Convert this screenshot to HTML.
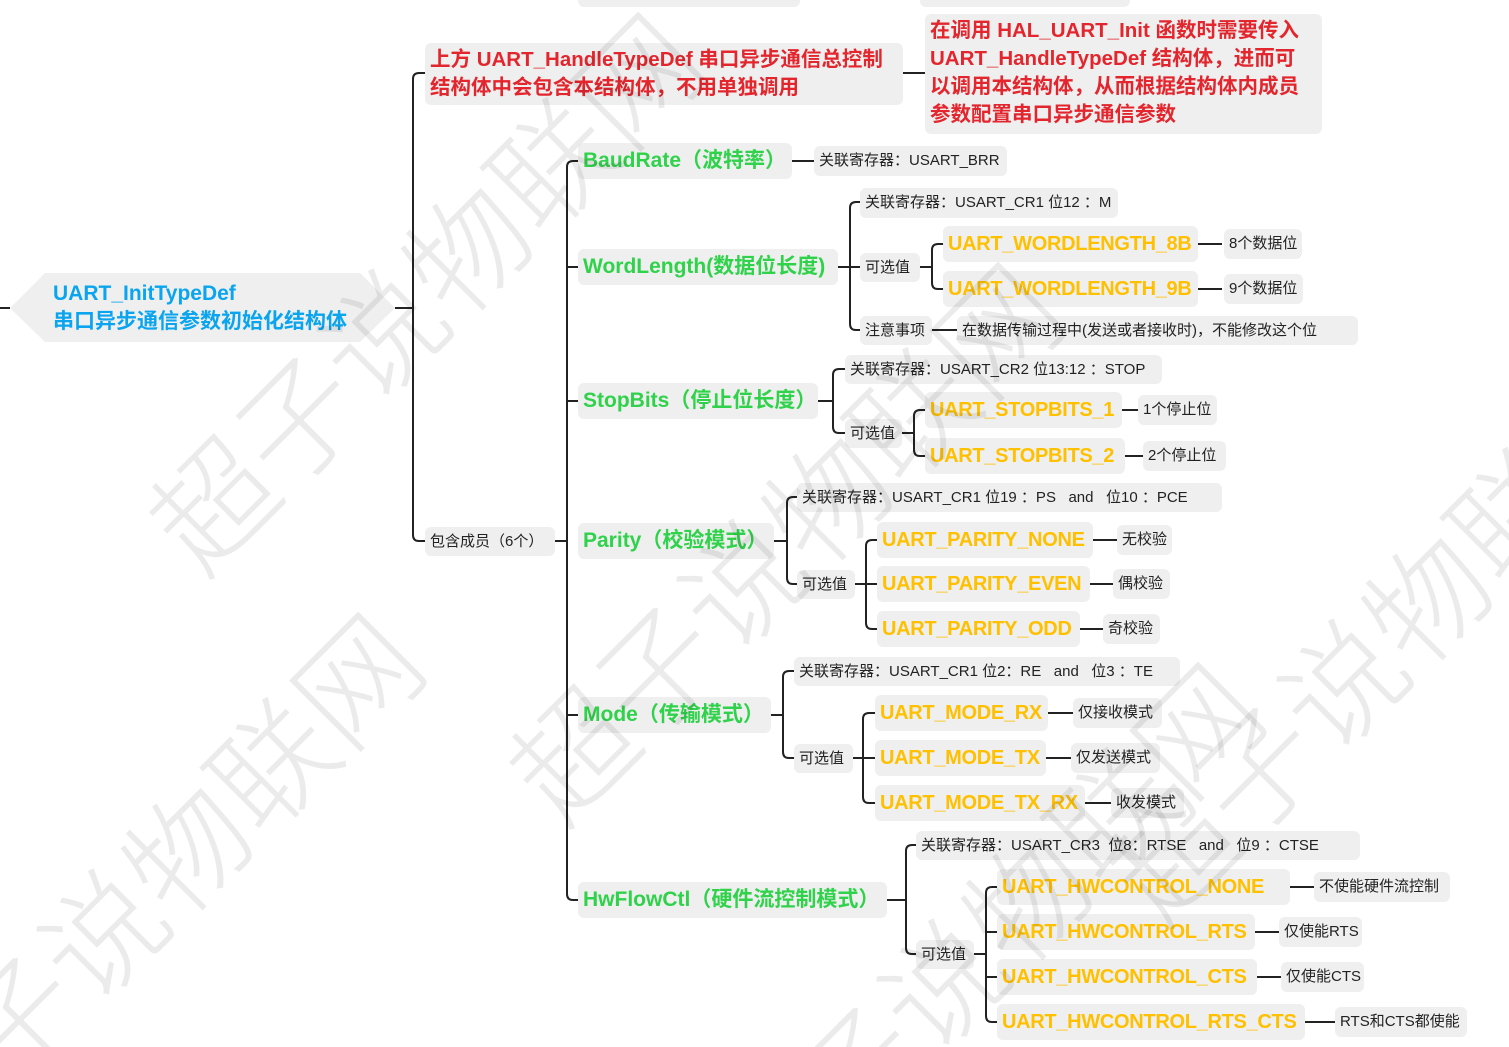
<!DOCTYPE html>
<html style="margin:0;width:1509px;height:1047px;overflow:hidden"><head><meta charset="utf-8"><style>
body{margin:0;width:1509px;height:1047px;overflow:hidden;background:#fff;position:relative;font-family:"Liberation Sans","Noto Sans CJK SC",sans-serif}
.b{position:absolute;background:#efefef;border-radius:6px;white-space:nowrap;box-sizing:border-box;padding-left:5px;color:#222;font-size:15px}
.g{color:#2fd24a;font-weight:bold;font-size:21px}
.o{color:#ffc000;font-weight:bold;font-size:20px;letter-spacing:-0.3px}
.r{color:#e3262d;font-weight:bold;font-size:20.5px;line-height:28px;padding-top:3px}
#wmw{position:absolute;left:0;top:0;width:1509px;height:1047px;overflow:hidden;pointer-events:none}
.wm{position:absolute;font-size:120px;color:rgba(0,0,0,0.08);transform:rotate(-45deg);white-space:nowrap;font-family:"Noto Sans CJK SC",sans-serif;font-weight:300}
svg{position:absolute;left:0;top:0}
</style></head><body>
<div class="b" style="left:578px;top:-6px;width:222px;height:13px"></div>
<div class="b" style="left:920px;top:-6px;width:210px;height:13px"></div>

<svg width="1509" height="1047"><polygon points="10,308 45,273 360,273 395,308 360,342 45,342" fill="#efefef"/>
<g fill="none" stroke="#222" stroke-width="2">
<path d="M0 308H10M395 308H413"/>
<path d="M425 73H419Q413 73 413 79V535Q413 541 419 541H425"/>
<path d="M903 73H925"/>
<path d="M555 541H567M578 161H573Q567 161 567 167V894Q567 900 573 900H578M567 267H578M567 401H578M567 715H578"/>
<path d="M792 161H814"/>
<path d="M838 267H860M860 202H856Q850 202 850 208V324Q850 330 856 330H860"/>
<path d="M920 267H932M943 244H938Q932 244 932 250V283Q932 289 938 289H943"/>
<path d="M1198 244H1222M1198 289H1222M932 330H957"/>
<path d="M818 401H833M845 369H839Q833 369 833 375V427Q833 433 839 433H845"/>
<path d="M902 433H914M925 410H920Q914 410 914 416V450Q914 456 920 456H925"/>
<path d="M1122 410H1138M1125 456H1143"/>
<path d="M774 541H787M797 497H793Q787 497 787 503V578Q787 584 793 584H797"/>
<path d="M855 584H866M877 540H872Q866 540 866 546V623Q866 629 872 629H877M866 584H877"/>
<path d="M1093 540H1117M1090 584H1113M1080 629H1103"/>
<path d="M771 715H783M794 671H789Q783 671 783 677V752Q783 758 789 758H794"/>
<path d="M853 758H863M875 713H869Q863 713 863 719V797Q863 803 869 803H875M863 758H875"/>
<path d="M1048 713H1073M1046 758H1071M1085 803H1111"/>
<path d="M887 900H906M916 845H912Q906 845 906 851V948Q906 954 912 954H916"/>
<path d="M974 954H986M997 887H992Q986 887 986 893V1016Q986 1022 992 1022H997M986 932H997M986 977H997"/>
<path d="M1290 887H1314M1255 932H1279M1257 977H1281M1305 1022H1335"/>
</g></svg>

<div style="position:absolute;left:53px;top:280px;color:#0aa5ee;font-weight:bold;font-size:21px;line-height:28px">UART_InitTypeDef<br>串口异步通信参数初始化结构体</div>

<div class="b r" style="left:425px;top:43px;width:478px;height:62px">上方 UART_HandleTypeDef 串口异步通信总控制<br>结构体中会包含本结构体，不用单独调用</div>
<div class="b r" style="left:925px;top:14px;width:397px;height:120px;padding-top:3px">在调用 HAL_UART_Init 函数时需要传入<br>UART_HandleTypeDef 结构体，进而可<br>以调用本结构体，从而根据结构体内成员<br>参数配置串口异步通信参数</div>

<div class="b" style="left:425px;top:527px;width:130px;height:29px;line-height:29px">包含成员（6个）</div>

<div class="b g" style="left:578px;top:143px;width:214px;height:36px;line-height:36px">BaudRate（波特率）</div>
<div class="b" style="left:814px;top:146px;width:193px;height:30px;line-height:30px">关联寄存器：USART_BRR</div>

<div class="b g" style="left:578px;top:249px;width:260px;height:36px;line-height:36px">WordLength(数据位长度)</div>
<div class="b" style="left:860px;top:188px;width:258px;height:30px;line-height:30px">关联寄存器：USART_CR1 位12 ：M</div>
<div class="b" style="left:860px;top:253px;width:60px;height:29px;line-height:29px">可选值</div>
<div class="b o" style="left:943px;top:226px;width:255px;height:36px;line-height:36px">UART_WORDLENGTH_8B</div>
<div class="b" style="left:1224px;top:229px;width:78px;height:30px;line-height:30px">8个数据位</div>
<div class="b o" style="left:943px;top:271px;width:255px;height:36px;line-height:36px">UART_WORDLENGTH_9B</div>
<div class="b" style="left:1224px;top:274px;width:79px;height:30px;line-height:30px">9个数据位</div>
<div class="b" style="left:860px;top:316px;width:72px;height:29px;line-height:29px">注意事项</div>
<div class="b" style="left:957px;top:316px;width:401px;height:29px;line-height:29px">在数据传输过程中(发送或者接收时)，不能修改这个位</div>

<div class="b g" style="left:578px;top:383px;width:240px;height:36px;line-height:36px">StopBits（停止位长度）</div>
<div class="b" style="left:845px;top:355px;width:317px;height:29px;line-height:29px">关联寄存器：USART_CR2 位13:12 ：STOP</div>
<div class="b" style="left:845px;top:419px;width:57px;height:29px;line-height:29px">可选值</div>
<div class="b o" style="left:925px;top:392px;width:197px;height:36px;line-height:36px">UART_STOPBITS_1</div>
<div class="b" style="left:1138px;top:395px;width:79px;height:30px;line-height:30px">1个停止位</div>
<div class="b o" style="left:925px;top:438px;width:200px;height:36px;line-height:36px">UART_STOPBITS_2</div>
<div class="b" style="left:1143px;top:441px;width:83px;height:30px;line-height:30px">2个停止位</div>

<div class="b g" style="left:578px;top:523px;width:196px;height:36px;line-height:36px">Parity（校验模式）</div>
<div class="b" style="left:797px;top:483px;width:425px;height:29px;line-height:29px">关联寄存器：USART_CR1 位19 ：PS &nbsp;&nbsp;and &nbsp;&nbsp;位10 ：PCE</div>
<div class="b" style="left:797px;top:570px;width:58px;height:29px;line-height:29px">可选值</div>
<div class="b o" style="left:877px;top:522px;width:216px;height:36px;line-height:36px">UART_PARITY_NONE</div>
<div class="b" style="left:1117px;top:525px;width:55px;height:30px;line-height:30px">无校验</div>
<div class="b o" style="left:877px;top:566px;width:213px;height:36px;line-height:36px">UART_PARITY_EVEN</div>
<div class="b" style="left:1113px;top:569px;width:57px;height:30px;line-height:30px">偶校验</div>
<div class="b o" style="left:877px;top:611px;width:203px;height:36px;line-height:36px">UART_PARITY_ODD</div>
<div class="b" style="left:1103px;top:614px;width:57px;height:30px;line-height:30px">奇校验</div>

<div class="b g" style="left:578px;top:697px;width:193px;height:36px;line-height:36px">Mode（传输模式）</div>
<div class="b" style="left:794px;top:657px;width:386px;height:29px;line-height:29px">关联寄存器：USART_CR1 位2：RE &nbsp;&nbsp;and &nbsp;&nbsp;位3 ：TE</div>
<div class="b" style="left:794px;top:744px;width:59px;height:29px;line-height:29px">可选值</div>
<div class="b o" style="left:875px;top:695px;width:173px;height:36px;line-height:36px">UART_MODE_RX</div>
<div class="b" style="left:1073px;top:698px;width:89px;height:30px;line-height:30px">仅接收模式</div>
<div class="b o" style="left:875px;top:740px;width:171px;height:36px;line-height:36px">UART_MODE_TX</div>
<div class="b" style="left:1071px;top:743px;width:89px;height:30px;line-height:30px">仅发送模式</div>
<div class="b o" style="left:875px;top:785px;width:210px;height:36px;line-height:36px">UART_MODE_TX_RX</div>
<div class="b" style="left:1111px;top:788px;width:73px;height:30px;line-height:30px">收发模式</div>

<div class="b g" style="left:578px;top:882px;width:309px;height:36px;line-height:36px">HwFlowCtl（硬件流控制模式）</div>
<div class="b" style="left:916px;top:831px;width:444px;height:29px;line-height:29px">关联寄存器：USART_CR3 &nbsp;位8：RTSE &nbsp;&nbsp;and &nbsp;&nbsp;位9 ：CTSE</div>
<div class="b" style="left:916px;top:940px;width:58px;height:29px;line-height:29px">可选值</div>
<div class="b o" style="left:997px;top:869px;width:293px;height:36px;line-height:36px">UART_HWCONTROL_NONE</div>
<div class="b" style="left:1314px;top:872px;width:136px;height:30px;line-height:30px">不使能硬件流控制</div>
<div class="b o" style="left:997px;top:914px;width:258px;height:36px;line-height:36px">UART_HWCONTROL_RTS</div>
<div class="b" style="left:1279px;top:917px;width:83px;height:30px;line-height:30px">仅使能RTS</div>
<div class="b o" style="left:997px;top:959px;width:260px;height:36px;line-height:36px">UART_HWCONTROL_CTS</div>
<div class="b" style="left:1281px;top:962px;width:83px;height:30px;line-height:30px">仅使能CTS</div>
<div class="b o" style="left:997px;top:1004px;width:308px;height:36px;line-height:36px">UART_HWCONTROL_RTS_CTS</div>
<div class="b" style="left:1335px;top:1007px;width:132px;height:30px;line-height:30px">RTS和CTS都使能</div>

<div id="wmw">
<div class="wm" style="left:60px;top:200px">超子说物联网</div>
<div class="wm" style="left:420px;top:450px">超子说物联网</div>
<div class="wm" style="left:1020px;top:550px">超子说物联网</div>
<div class="wm" style="left:-220px;top:800px">超子说物联网</div>
<div class="wm" style="left:620px;top:850px">超子说物联网</div>
</div>
</body></html>
